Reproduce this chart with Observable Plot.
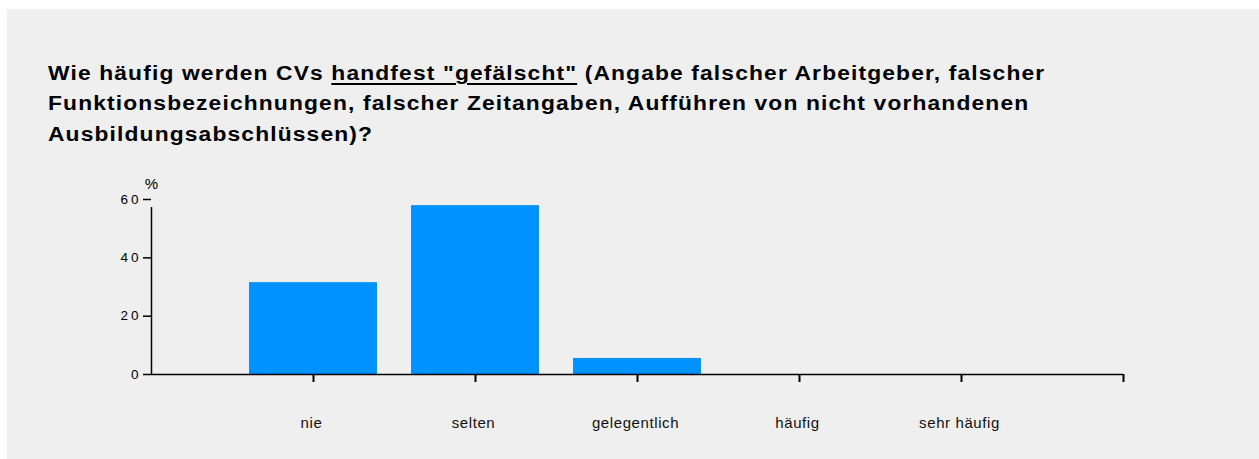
<!DOCTYPE html>
<html>
<head>
<meta charset="utf-8">
<script src="https://cdn.jsdelivr.net/npm/d3@7"></script>
<script src="https://cdn.jsdelivr.net/npm/@observablehq/plot@0.6"></script>
<style>
  html, body { margin: 0; padding: 0; background: #ffffff; width: 1259px; height: 459px; overflow: hidden; }
  #bg { position: absolute; left: 7px; top: 9px; width: 1252px; height: 450px; background: #efefef; }
  #title { position: absolute; left: 48px; top: 58px; font-family: "Liberation Sans", Arial, sans-serif;
           font-weight: bold; font-size: 20px; letter-spacing: 1px; line-height: 30.3px; color: #000; white-space: nowrap;
           transform: scaleX(1.14); transform-origin: 0 0; }
  #title u { text-decoration-thickness: 1.5px; text-underline-offset: 3px; }
  #chart { position: absolute; left: 0; top: 160px; }
  #chart svg { overflow: visible; }
  g[aria-label="y-axis tick label"] text { letter-spacing: 3px; }
  g[aria-label="x-axis tick label"] text { letter-spacing: 0.6px; }
</style>
</head>
<body>
<div id="bg"></div>
<div id="title">Wie häufig werden CVs <u>handfest "gefälscht"</u> (Angabe falscher Arbeitgeber, falscher<br>Funktionsbezeichnungen, falscher Zeitangaben, Aufführen von nicht vorhandenen<br>Ausbildungsabschlüssen)?</div>
<div id="chart"></div>
<script>
const categories = ["nie", "selten", "gelegentlich", "häufig", "sehr häufig"];
const values = [31.5, 57.9, 5.5, 0, 0];
const yTicks = [0, 20, 40, 60];
const xTicks = [1, 2, 3, 4, 5, 6];

const data = categories.map((c, i) => ({category: c, pos: i + 1, value: values[i]}));
const halfWidth = 0.395;

const plot = Plot.plot({
  width: 1259,
  height: 290,
  marginLeft: 151,
  marginRight: 136,
  marginTop: 39,
  marginBottom: 76,
  style: {background: "transparent", fontFamily: "'Liberation Sans', Arial, sans-serif", color: "#000"},
  x: {type: "linear", domain: [0, 6]},
  y: {domain: [0, 60]},
  marks: [
    Plot.rectY(data, {x1: d => d.pos - halfWidth, x2: d => d.pos + halfWidth, y: "value", fill: "#0093ff"}),
    Plot.axisY({ticks: yTicks, tickSize: 8, tickPadding: 2, label: null, fontSize: 13.5, stroke: "#000", strokeWidth: 1.5, fill: "#000"}),
    Plot.axisX({ticks: xTicks, text: null, tickSize: 8, label: null, stroke: "#000", strokeWidth: 2}),
    Plot.axisX({ticks: xTicks, tickFormat: d => categories[d - 1] ?? "", tickSize: 0, tickPadding: 43, dx: -2, label: null,
                fontSize: 15, fill: "#111"}),
    Plot.ruleX([0], {y1: yTicks[0], y2: yTicks[yTicks.length - 1], insetBottom: -8, stroke: "#000", strokeWidth: 1.5}),
    Plot.ruleY([0], {x1: 0, x2: xTicks[xTicks.length - 1], stroke: "#000", strokeWidth: 1.5}),
    Plot.text(["%"], {x: () => 0, y: () => yTicks[yTicks.length - 1], dy: -15, fontSize: 15, fill: "#000"})
  ]
});
document.getElementById("chart").appendChild(plot);
</script>
</body>
</html>
